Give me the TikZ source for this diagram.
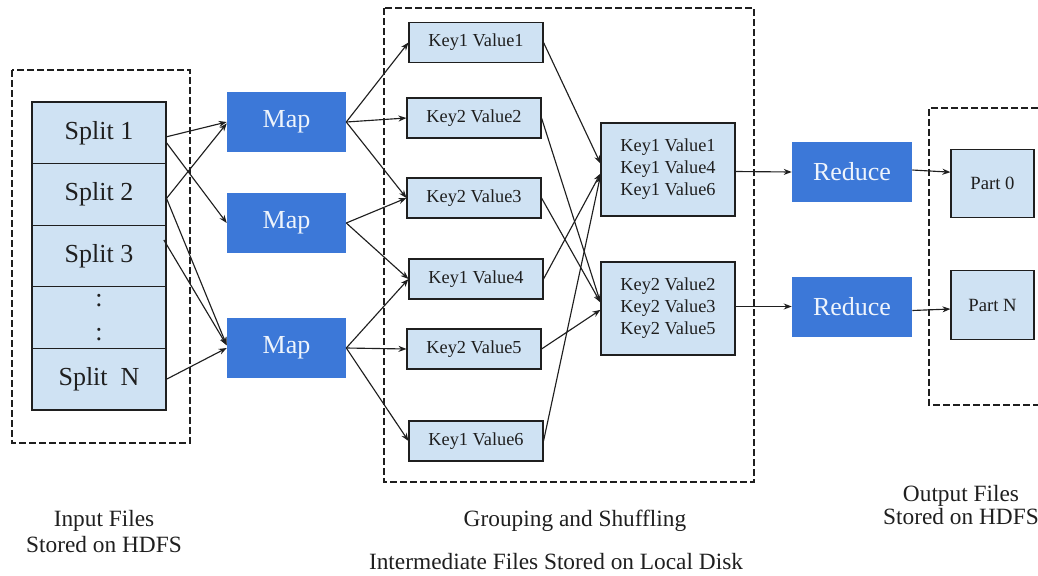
\documentclass[tikz,border=0pt]{standalone}
\usepackage{fontspec}
\setmainfont{Liberation Serif}
\usetikzlibrary{arrows.meta}
\definecolor{lightbox}{HTML}{CFE2F3}
\definecolor{mapblue}{HTML}{3C78D8}
\definecolor{maptext}{HTML}{EEF4FC}
\definecolor{ink}{HTML}{1F1F1F}
\begin{document}
\begin{tikzpicture}[x=0.75pt,y=-0.75pt,
  every node/.style={text=ink},
  region/.style={draw=ink,line width=0.9pt,dash pattern=on 5pt off 2.5pt},
  splitrow/.style={draw=ink,line width=0.8pt,fill=lightbox,inner sep=0pt,
    minimum width=100.5pt,minimum height=46.2pt,font=\fontsize{19.5}{25.5}\selectfont,align=center},
  task/.style={fill=mapblue,inner sep=0pt,text=maptext,
    minimum height=45pt,font=\fontsize{19.5}{22}\selectfont},
  pair/.style={draw=ink,line width=0.8pt,fill=lightbox,inner sep=0pt,
    minimum width=100.5pt,minimum height=30pt,font=\fontsize{13.75}{16.5}\selectfont},
  group/.style={pair,minimum height=69.75pt,align=center},
  part/.style={draw=ink,line width=0.8pt,fill=lightbox,inner sep=0pt,
    minimum width=62.25pt,minimum height=51.5pt,font=\fontsize{14}{16}\selectfont},
  caption/.style={font=\fontsize{17.5}{19.5}\selectfont,align=center,inner sep=0pt},
  arr/.style={draw=ink,line width=0.85pt,-{Stealth[length=6pt,width=4.5pt]}}
]
\useasboundingbox (0,0) rectangle (1038,575);

% storage regions
\draw[region] (12,70) rectangle (190,443);
\draw[region] (384,8) rectangle (754,482);
\draw[region] (1038,108) -- (929,108) -- (929,405) -- (1038,405);

% input splits
\node[splitrow] (s1) at (99,132.8) {Split 1};
\node[splitrow] (s2) at (99,194.4) {Split 2};
\node[splitrow] (s3) at (99,256) {Split 3};
\node[splitrow] (sd) at (99,317.6) {:\\:};
\node[splitrow] (sn) at (99,379.2) {Split~~N};

% map tasks
\node[task,minimum width=89.25pt] (m1) at (286.5,122) {Map};
\node[task,minimum width=89.25pt] (m2) at (286.5,223) {Map};
\node[task,minimum width=89.25pt] (m3) at (286.5,348) {Map};

% intermediate key/value pairs
\node[pair] (kv1) at (476,42.5) {Key1 Value1};
\node[pair] (kv2) at (474,118) {Key2 Value2};
\node[pair] (kv3) at (474,198) {Key2 Value3};
\node[pair] (kv4) at (476,279) {Key1 Value4};
\node[pair] (kv5) at (474,349) {Key2 Value5};
\node[pair] (kv6) at (476,441) {Key1 Value6};

% grouped pairs
\node[group] (g1) at (668,169.5) {Key1 Value1\\Key1 Value4\\Key1 Value6};
\node[group] (g2) at (668,308.5) {Key2 Value2\\Key2 Value3\\Key2 Value5};

% reduce tasks
\node[task,minimum width=90pt] (r1) at (852,172) {Reduce};
\node[task,minimum width=90pt] (r2) at (852,306.5) {Reduce};

% output parts
\node[part] (p0) at (992.5,183.5) {Part 0};
\node[part] (pn) at (992.5,305) {Part N};

% splits to maps
\draw[arr] ([yshift=-3pt]s1.east) -- (m1.west);
\draw[arr] ([yshift=-7.5pt]s1.east) -- (m2.west);
\draw[arr] ([yshift=-3pt]s2.east) -- ([yshift=-1pt]m1.west);
\draw[arr] ([yshift=-3pt]s2.east) -- ([yshift=2pt]m3.west);
\draw[arr] ([xshift=-2pt,yshift=12pt]s3.east) -- ([yshift=2pt]m3.west);
\draw[arr] (sn.east) -- (m3.west);

% maps to pairs
\draw[arr] (m1.east) -- (kv1.west);
\draw[arr] (m1.east) -- (kv2.west);
\draw[arr] (m1.east) -- (kv3.west);
\draw[arr] (m2.east) -- (kv3.west);
\draw[arr] (m2.east) -- (kv4.west);
\draw[arr] (m3.east) -- (kv4.west);
\draw[arr] (m3.east) -- (kv5.west);
\draw[arr] (m3.east) -- (kv6.west);

% shuffle to groups
\draw[arr] (kv1.east) -- ([yshift=4.5pt]g1.west);
\draw[arr] (kv4.east) -- ([yshift=-3pt]g1.west);
\draw[arr] (kv6.east) -- ([yshift=-4.5pt]g1.west);
\draw[arr] (kv2.east) -- ([yshift=4.5pt]g2.west);
\draw[arr] (kv3.east) -- ([yshift=4.5pt]g2.west);
\draw[arr] (kv5.east) -- ([yshift=-1pt]g2.west);

% groups to reducers to parts
\draw[arr] ([yshift=-1.5pt]g1.east) -- (r1.west);
\draw[arr] ([yshift=1.5pt]g2.east) -- (r2.west);
\draw[arr] ([yshift=1.5pt]r1.east) -- ([yshift=8.5pt]p0.west);
\draw[arr] ([yshift=-3pt]r2.east) -- ([yshift=-3pt]pn.west);

% captions
\node[caption] (capin) at (104,532) {Input Files\\Stored on HDFS};
\node[caption] (capgs) at (575,521) {Grouping and Shuffling};
\node[caption] (capim) at (556,562) {Intermediate Files Stored on Local Disk};
\node[caption,font=\fontsize{17.5}{17.5}\selectfont] (capout) at (961,505) {Output Files\\Stored on HDFS};
\end{tikzpicture}
\end{document}
